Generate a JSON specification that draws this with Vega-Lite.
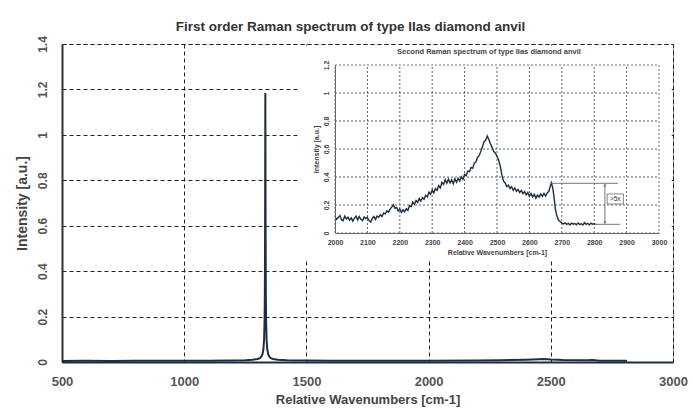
{
  "$schema": "https://vega.github.io/schema/vega-lite/v6.json",
  "width": 611,
  "height": 318,
  "autosize": "none",
  "padding": {"left": 62, "top": 44, "right": 20, "bottom": 49},
  "background": "white",
  "config": {
    "font": "Liberation Sans",
    "view": {"stroke": "#555", "strokeDash": [4, 3], "strokeWidth": 1}
  },
  "title": {
    "text": "First order Raman spectrum of type IIas diamond anvil",
    "fontSize": 13.5,
    "fontWeight": "bold",
    "color": "#333",
    "offset": 2,
    "dx": -17,
    "font": "Liberation Sans"
  },
  "datasets": {
    "main": [
      {"w": 500, "i": 0.004}, {"w": 600, "i": 0.005}, {"w": 700, "i": 0.004}, {"w": 800, "i": 0.005},
      {"w": 900, "i": 0.005}, {"w": 1000, "i": 0.006}, {"w": 1100, "i": 0.006}, {"w": 1200, "i": 0.007},
      {"w": 1250, "i": 0.008}, {"w": 1280, "i": 0.01}, {"w": 1300, "i": 0.013}, {"w": 1310, "i": 0.017},
      {"w": 1316, "i": 0.024}, {"w": 1320, "i": 0.033}, {"w": 1324, "i": 0.055}, {"w": 1327, "i": 0.1},
      {"w": 1329, "i": 0.19}, {"w": 1330, "i": 0.3}, {"w": 1331, "i": 0.6}, {"w": 1332, "i": 1.184},
      {"w": 1333, "i": 0.6}, {"w": 1334, "i": 0.3}, {"w": 1335, "i": 0.19}, {"w": 1337, "i": 0.1},
      {"w": 1340, "i": 0.055}, {"w": 1344, "i": 0.033}, {"w": 1348, "i": 0.024}, {"w": 1354, "i": 0.017},
      {"w": 1364, "i": 0.013}, {"w": 1384, "i": 0.01}, {"w": 1420, "i": 0.008}, {"w": 1500, "i": 0.007},
      {"w": 1600, "i": 0.006}, {"w": 1800, "i": 0.006}, {"w": 2000, "i": 0.006}, {"w": 2200, "i": 0.007},
      {"w": 2300, "i": 0.008}, {"w": 2400, "i": 0.01}, {"w": 2450, "i": 0.012}, {"w": 2470, "i": 0.013},
      {"w": 2500, "i": 0.011}, {"w": 2550, "i": 0.009}, {"w": 2650, "i": 0.008}, {"w": 2670, "i": 0.009},
      {"w": 2700, "i": 0.005}, {"w": 2812, "i": 0.005}
    ],
    "inset": [
      {"w": 2000, "i": 0.117}, {"w": 2005, "i": 0.098}, {"w": 2010, "i": 0.111}, {"w": 2015, "i": 0.125},
      {"w": 2020, "i": 0.095}, {"w": 2025, "i": 0.088}, {"w": 2030, "i": 0.12}, {"w": 2035, "i": 0.101},
      {"w": 2040, "i": 0.113}, {"w": 2045, "i": 0.091}, {"w": 2050, "i": 0.108}, {"w": 2055, "i": 0.085},
      {"w": 2060, "i": 0.107}, {"w": 2065, "i": 0.121}, {"w": 2070, "i": 0.093}, {"w": 2075, "i": 0.118},
      {"w": 2080, "i": 0.098}, {"w": 2085, "i": 0.089}, {"w": 2090, "i": 0.115}, {"w": 2095, "i": 0.103},
      {"w": 2100, "i": 0.112}, {"w": 2105, "i": 0.088}, {"w": 2110, "i": 0.078}, {"w": 2115, "i": 0.104},
      {"w": 2120, "i": 0.118}, {"w": 2125, "i": 0.097}, {"w": 2130, "i": 0.121}, {"w": 2135, "i": 0.112},
      {"w": 2140, "i": 0.131}, {"w": 2145, "i": 0.118}, {"w": 2150, "i": 0.142}, {"w": 2155, "i": 0.137},
      {"w": 2160, "i": 0.158}, {"w": 2165, "i": 0.149}, {"w": 2170, "i": 0.171}, {"w": 2175, "i": 0.185},
      {"w": 2180, "i": 0.201}, {"w": 2185, "i": 0.176}, {"w": 2190, "i": 0.183}, {"w": 2195, "i": 0.158},
      {"w": 2200, "i": 0.171}, {"w": 2205, "i": 0.148}, {"w": 2210, "i": 0.166}, {"w": 2215, "i": 0.152},
      {"w": 2220, "i": 0.174}, {"w": 2225, "i": 0.162}, {"w": 2230, "i": 0.196}, {"w": 2235, "i": 0.188},
      {"w": 2240, "i": 0.221}, {"w": 2245, "i": 0.205}, {"w": 2250, "i": 0.232}, {"w": 2255, "i": 0.219},
      {"w": 2260, "i": 0.246}, {"w": 2265, "i": 0.228}, {"w": 2270, "i": 0.252}, {"w": 2275, "i": 0.241},
      {"w": 2280, "i": 0.268}, {"w": 2285, "i": 0.259}, {"w": 2290, "i": 0.291}, {"w": 2295, "i": 0.276},
      {"w": 2300, "i": 0.308}, {"w": 2305, "i": 0.287}, {"w": 2310, "i": 0.318}, {"w": 2315, "i": 0.305},
      {"w": 2320, "i": 0.339}, {"w": 2325, "i": 0.322}, {"w": 2330, "i": 0.361}, {"w": 2335, "i": 0.347},
      {"w": 2340, "i": 0.381}, {"w": 2345, "i": 0.356}, {"w": 2350, "i": 0.385}, {"w": 2355, "i": 0.358},
      {"w": 2360, "i": 0.379}, {"w": 2365, "i": 0.352}, {"w": 2370, "i": 0.386}, {"w": 2375, "i": 0.362},
      {"w": 2380, "i": 0.391}, {"w": 2385, "i": 0.371}, {"w": 2390, "i": 0.401}, {"w": 2395, "i": 0.383},
      {"w": 2400, "i": 0.419}, {"w": 2405, "i": 0.41}, {"w": 2410, "i": 0.442}, {"w": 2415, "i": 0.438},
      {"w": 2420, "i": 0.468}, {"w": 2425, "i": 0.462}, {"w": 2430, "i": 0.501}, {"w": 2435, "i": 0.507},
      {"w": 2440, "i": 0.541}, {"w": 2445, "i": 0.552}, {"w": 2450, "i": 0.583}, {"w": 2455, "i": 0.615},
      {"w": 2460, "i": 0.652}, {"w": 2465, "i": 0.662}, {"w": 2470, "i": 0.692}, {"w": 2475, "i": 0.668},
      {"w": 2480, "i": 0.635}, {"w": 2485, "i": 0.612}, {"w": 2490, "i": 0.581}, {"w": 2495, "i": 0.572},
      {"w": 2500, "i": 0.548}, {"w": 2505, "i": 0.521}, {"w": 2510, "i": 0.478}, {"w": 2515, "i": 0.415},
      {"w": 2520, "i": 0.372}, {"w": 2525, "i": 0.358}, {"w": 2530, "i": 0.331}, {"w": 2535, "i": 0.342},
      {"w": 2540, "i": 0.318}, {"w": 2545, "i": 0.331}, {"w": 2550, "i": 0.305}, {"w": 2555, "i": 0.322},
      {"w": 2560, "i": 0.298}, {"w": 2565, "i": 0.311}, {"w": 2570, "i": 0.289}, {"w": 2575, "i": 0.304},
      {"w": 2580, "i": 0.281}, {"w": 2585, "i": 0.296}, {"w": 2590, "i": 0.272}, {"w": 2595, "i": 0.289},
      {"w": 2600, "i": 0.263}, {"w": 2605, "i": 0.282}, {"w": 2610, "i": 0.258}, {"w": 2615, "i": 0.276},
      {"w": 2620, "i": 0.249}, {"w": 2625, "i": 0.271}, {"w": 2630, "i": 0.256}, {"w": 2635, "i": 0.279},
      {"w": 2640, "i": 0.261}, {"w": 2645, "i": 0.283}, {"w": 2650, "i": 0.264}, {"w": 2655, "i": 0.286},
      {"w": 2660, "i": 0.298}, {"w": 2665, "i": 0.338}, {"w": 2668, "i": 0.358}, {"w": 2672, "i": 0.322},
      {"w": 2676, "i": 0.256}, {"w": 2680, "i": 0.172}, {"w": 2685, "i": 0.121}, {"w": 2690, "i": 0.091},
      {"w": 2695, "i": 0.082}, {"w": 2700, "i": 0.071}, {"w": 2705, "i": 0.065}, {"w": 2710, "i": 0.073},
      {"w": 2715, "i": 0.062}, {"w": 2720, "i": 0.069}, {"w": 2725, "i": 0.058}, {"w": 2730, "i": 0.071},
      {"w": 2735, "i": 0.063}, {"w": 2740, "i": 0.068}, {"w": 2745, "i": 0.059}, {"w": 2750, "i": 0.072},
      {"w": 2755, "i": 0.061}, {"w": 2760, "i": 0.066}, {"w": 2765, "i": 0.057}, {"w": 2770, "i": 0.074},
      {"w": 2775, "i": 0.062}, {"w": 2780, "i": 0.069}, {"w": 2785, "i": 0.058}, {"w": 2790, "i": 0.071},
      {"w": 2795, "i": 0.063}, {"w": 2800, "i": 0.066}, {"w": 2805, "i": 0.061}
    ],
    "gridx": [{"v": 2100}, {"v": 2200}, {"v": 2300}, {"v": 2400}, {"v": 2500}, {"v": 2600}, {"v": 2700}, {"v": 2800}, {"v": 2900}],
    "gridy": [{"v": 0.2}, {"v": 0.4}, {"v": 0.6}, {"v": 0.8}, {"v": 1.0}],
    "ann": [
      {"x": 2664, "x2": 2873, "y": 0.355, "y2": 0.355},
      {"x": 2797, "x2": 2880, "y": 0.062, "y2": 0.062},
      {"x": 2833, "x2": 2833, "y": 0.066, "y2": 0.351}
    ]
  },
  "layer": [
    {
      "layer": [
        {
          "data": {"values": [{"a": 1474, "b": 2994, "c": 0.449, "d": 1.393}]},
          "mark": {"type": "rect", "fill": "white", "stroke": null},
          "encoding": {
            "x": {"field": "a", "type": "quantitative"},
            "x2": {"field": "b"},
            "y": {"field": "c", "type": "quantitative"},
            "y2": {"field": "d"}
          }
        },
        {
          "data": {"name": "main"},
          "mark": {"type": "line", "color": "#1c2e40", "strokeWidth": 2, "interpolate": "linear"},
          "encoding": {
            "x": {
              "field": "w", "type": "quantitative",
              "scale": {"domain": [500, 3000], "nice": false, "zero": false},
              "axis": {
                "title": "Relative Wavenumbers [cm-1]",
                "values": [500, 1000, 1500, 2000, 2500, 3000],
                "format": "d",
                "grid": true, "gridColor": "#222", "gridDash": [4, 3], "gridWidth": 1,
                "ticks": false, "domainColor": "#1c2e40", "domainWidth": 2,
                "labelFontSize": 13, "labelFontWeight": "bold", "labelColor": "#555",
                "labelPadding": 13, "labelFlush": false,
                "titleFontSize": 13, "titleFontWeight": "bold", "titleColor": "#444", "titlePadding": 5
              }
            },
            "y": {
              "field": "i", "type": "quantitative",
              "scale": {"domain": [0, 1.4], "nice": false},
              "axis": {
                "title": "Intensity [a.u.]",
                "values": [0, 0.2, 0.4, 0.6, 0.8, 1, 1.2, 1.4],
                "format": "~g",
                "grid": true, "gridColor": "#222", "gridDash": [4, 3], "gridWidth": 1,
                "ticks": false, "domainColor": "#333", "domainWidth": 2,
                "labelAngle": -90, "labelFontSize": 12, "labelFontWeight": "bold", "labelColor": "#555",
                "labelPadding": 13, "labelFlush": false,
                "titleFontSize": 14, "titleFontWeight": "bold", "titleColor": "#444", "titlePadding": 7
              }
            }
          }
        }
      ]
    },
    {
      "layer": [
        {
          "data": {"name": "gridx"},
          "mark": {"type": "rule", "color": "#2c3e50", "strokeDash": [2, 2], "strokeWidth": 0.8},
          "encoding": {
            "x": {"field": "v", "type": "quantitative"},
            "y": {"datum": 0},
            "y2": {"datum": 1.2}
          }
        },
        {
          "data": {"name": "gridy"},
          "mark": {"type": "rule", "color": "#2c3e50", "strokeDash": [2, 2], "strokeWidth": 0.8},
          "encoding": {
            "y": {"field": "v", "type": "quantitative"},
            "x": {"datum": 2000},
            "x2": {"datum": 3000}
          }
        },
        {
          "data": {"values": [{"a": 2000, "b": 3000, "c": 0, "d": 1.2}]},
          "mark": {"type": "rect", "fill": null, "stroke": "#777", "strokeDash": [2, 2], "strokeWidth": 1},
          "encoding": {
            "x": {"field": "a", "type": "quantitative"},
            "x2": {"field": "b"},
            "y": {"field": "c", "type": "quantitative"},
            "y2": {"field": "d"}
          }
        },
        {
          "data": {"name": "inset"},
          "mark": {"type": "line", "color": "#1c2e40", "strokeWidth": 1.4},
          "encoding": {
            "x": {
              "field": "w", "type": "quantitative",
              "scale": {"domain": [2000, 3000], "range": [273, 597], "nice": false, "zero": false},
              "axis": {
                "orient": "bottom", "offset": -129, "zindex": 1,
                "values": [2000, 2100, 2200, 2300, 2400, 2500, 2600, 2700, 2800, 2900, 3000],
                "format": "d",
                "grid": false, "ticks": false, "domainColor": "#666", "domainWidth": 1,
                "labelFontSize": 7, "labelFontWeight": "bold", "labelColor": "#444",
                "labelPadding": 5, "labelFlush": false, "labelOverlap": false,
                "title": "Relative Wavenumbers [cm-1]",
                "titleFontSize": 7, "titleFontWeight": "bold", "titleColor": "#444", "titlePadding": 3
              }
            },
            "y": {
              "field": "i", "type": "quantitative",
              "scale": {"domain": [0, 1.2], "range": [189, 21], "nice": false},
              "axis": {
                "orient": "left", "offset": -273, "zindex": 1,
                "values": [0, 0.2, 0.4, 0.6, 0.8, 1, 1.2],
                "format": "~g",
                "grid": false, "ticks": false, "domainColor": "#666", "domainWidth": 1,
                "labelAngle": -90, "labelFontSize": 7, "labelFontWeight": "bold", "labelColor": "#444",
                "labelPadding": 6, "labelFlush": false, "labelOverlap": false,
                "title": "Intensity [a.u.]",
                "titleFontSize": 7, "titleFontWeight": "bold", "titleColor": "#444", "titlePadding": 3
              }
            }
          }
        },
        {
          "data": {"name": "ann"},
          "mark": {"type": "rule", "color": "#666", "strokeWidth": 0.9},
          "encoding": {
            "x": {"field": "x", "type": "quantitative"},
            "x2": {"field": "x2"},
            "y": {"field": "y", "type": "quantitative"},
            "y2": {"field": "y2"}
          }
        },
        {
          "data": {"values": [{"x": 2833, "y": 0.342}]},
          "mark": {"type": "point", "shape": "triangle-up", "filled": true, "color": "#555", "size": 10},
          "encoding": {
            "x": {"field": "x", "type": "quantitative"},
            "y": {"field": "y", "type": "quantitative"}
          }
        },
        {
          "data": {"values": [{"x": 2833, "y": 0.075}]},
          "mark": {"type": "point", "shape": "triangle-down", "filled": true, "color": "#555", "size": 10},
          "encoding": {
            "x": {"field": "x", "type": "quantitative"},
            "y": {"field": "y", "type": "quantitative"}
          }
        },
        {
          "data": {"values": [{"a": 2840, "b": 2890, "c": 0.207, "d": 0.279}]},
          "mark": {"type": "rect", "fill": "white", "stroke": "#666", "strokeWidth": 0.8},
          "encoding": {
            "x": {"field": "a", "type": "quantitative"},
            "x2": {"field": "b"},
            "y": {"field": "c", "type": "quantitative"},
            "y2": {"field": "d"}
          }
        },
        {
          "data": {"values": [{"x": 2865, "y": 0.243, "t": ">5x"}]},
          "mark": {"type": "text", "fontSize": 6.5, "color": "#333", "align": "center", "baseline": "middle"},
          "encoding": {
            "x": {"field": "x", "type": "quantitative"},
            "y": {"field": "y", "type": "quantitative"},
            "text": {"field": "t"}
          }
        },
        {
          "data": {"values": [{"x": 2475, "y": 1.293, "t": "Second Raman spectrum of type IIas diamond anvil"}]},
          "mark": {"type": "text", "fontSize": 7.5, "fontWeight": "bold", "color": "#444", "align": "center", "baseline": "middle"},
          "encoding": {
            "x": {"field": "x", "type": "quantitative"},
            "y": {"field": "y", "type": "quantitative"},
            "text": {"field": "t"}
          }
        }
      ]
    }
  ],
  "resolve": {
    "scale": {"x": "independent", "y": "independent"},
    "axis": {"x": "independent", "y": "independent"}
  }
}
